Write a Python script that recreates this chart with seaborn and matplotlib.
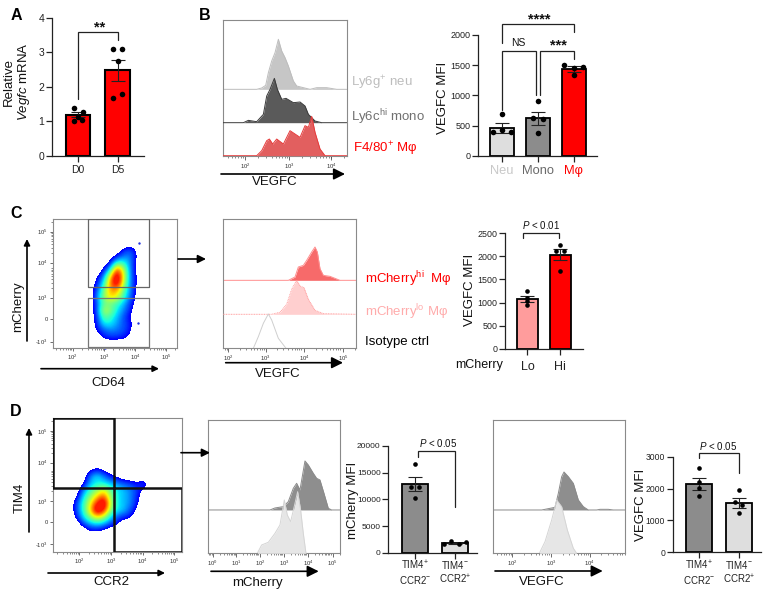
import numpy as np
import pandas as pd
import matplotlib
matplotlib.use("Agg")
import matplotlib.pyplot as plt
from matplotlib.colors import ListedColormap
import seaborn as sns

sns.set_theme(style="white")
plt.rcParams['font.family'] = ['Liberation Sans', 'DejaVu Sans']
plt.rcParams['mathtext.fontset'] = 'custom'
plt.rcParams['mathtext.rm'] = 'Liberation Sans'
plt.rcParams['mathtext.it'] = 'Liberation Sans:italic'
plt.rcParams['mathtext.bf'] = 'Liberation Sans:bold'
plt.rcParams['mathtext.default'] = 'regular'

W, H = 771, 594
RED, MID, LIGHT, PINK = '#ff0000', '#8c8c8c', '#dedede', '#ff9c9c'

# ---------------- bar panel data ----------------
a_cats = ['D0', 'D5']
a_means = [1.2, 2.48]
a_sems = [0.08, 0.31]
a_points = [[1.39, 1.27, 1.13, 1.01, 1.05], [3.09, 3.09, 2.74, 1.80, 1.69]]
a_jitter = [[-.11, .12, 0, -.11, .10], [-.12, .11, 0, .11, -.12]]

b_cats = ['Neu', 'Mono', 'M\u03c6']
b_means = [460, 620, 1440]
b_sems = [80, 110, 50]
b_points = [[690, 420, 390, 385], [910, 620, 610, 370], [1510, 1470, 1450, 1340]]
b_jitter = [[0, 0, -.26, .25], [0, -.13, .13, 0], [-.27, .26, 0, 0]]

c_cats = ['Lo', 'Hi']
c_means = [1080, 2040]
c_sems = [70, 120]
c_points = [[1255, 1105, 1030, 940], [2255, 2115, 2115, 1690]]
c_jitter = [[0, 0, 0, 0], [0, -.12, .12, 0]]

d1_cats = ['TIM4$^{+}$\nCCR2$^{-}$', 'TIM4$^{-}$\nCCR2$^{+}$']
d1_means = [12800, 1800]
d1_sems = [1300, 100]
d1_points = [[16600, 12300, 12300, 10200], [1700, 2100, 1700, 2000]]
d1_jitter = [[0, -.11, .11, 0], [-.28, -.09, .10, .28]]

d2_cats = ['TIM4$^{+}$\nCCR2$^{-}$', 'TIM4$^{-}$\nCCR2$^{+}$']
d2_means = [2150, 1550]
d2_sems = [190, 150]
d2_points = [[2660, 2210, 2030, 1760], [1950, 1500, 1570, 1220]]
d2_jitter = [[0, 0, 0, 0], [0, .09, -.09, 0]]

# ---------------- histogram data (channel, height above baseline) ----------------
bh_neu_x = [668, 770, 785, 797, 805, 815, 825, 835, 845, 855, 865, 880, 890, 910, 930, 950, 980, 1010, 1040]
bh_neu_y = [0, 0, 4, 12, 50, 85, 110, 150, 115, 95, 70, 25, 10, 5, 0, 5, 5, 0, 0]
bh_mono_x = [668, 730, 745, 770, 790, 800, 810, 823, 832, 845, 858, 880, 900, 915, 925, 945, 965, 1040]
bh_mono_y = [0, 0, 7, 3, 25, 80, 100, 133, 100, 70, 73, 60, 62, 50, 25, 5, 0, 0]
bh_mac_x = [668, 770, 785, 800, 808, 818, 830, 850, 870, 885, 900, 915, 925, 935, 945, 960, 975, 1040]
bh_mac_y = [0, 0, 15, 45, 50, 35, 50, 35, 75, 65, 55, 90, 85, 118, 70, 20, 0, 0]

ch_hi_x = [68, 265, 285, 295, 310, 320, 335, 345, 352, 360, 370, 390, 420, 469]
ch_hi_y = [0, 0, 10, 40, 45, 60, 85, 100, 85, 35, 15, 12, 0, 0]
ch_lo_x = [68, 215, 240, 260, 275, 290, 300, 312, 325, 345, 370, 469]
ch_lo_y = [0, 0, 6, 30, 75, 102, 85, 80, 45, 12, 2, 0]
ch_iso_x = [160, 175, 190, 205, 215, 235, 258]
ch_iso_y = [0, 35, 75, 103, 85, 30, 0]

d1h_top_x = [25, 210, 225, 250, 265, 280, 290, 300, 315, 325, 340, 350, 360, 372, 385, 395, 421]
d1h_top_y = [0, 0, 6, 10, 25, 65, 80, 60, 147, 135, 110, 95, 90, 50, 5, 0, 0]
d1h_bot_x = [172, 185, 205, 225, 240, 253, 262, 272, 285, 293, 302, 310, 318]
d1h_bot_y = [0, 25, 33, 60, 85, 160, 115, 95, 150, 185, 130, 60, 0]

d2h_top_x = [38, 185, 205, 225, 235, 245, 252, 265, 280, 295, 310, 325, 350, 360, 385, 400, 436]
d2h_top_y = [0, 0, 4, 8, 50, 100, 114, 100, 80, 30, 10, 0, 0, 2, 2, 0, 0]
d2h_bot_x = [178, 195, 215, 230, 245, 262, 280, 290]
d2h_bot_y = [0, 35, 100, 160, 140, 70, 15, 0]

# ---------------- pseudocolour density data ----------------
c_den_x = [270, 290, 310, 330, 350, 370, 390, 410, 430]
c_den_y = [130, 150, 170, 190, 210, 230, 250, 270, 290, 310, 330, 350, 370, 390, 410, 430]
c_den = [
    [0, 0, 0, 0, 0, 0, 0, 0, 0],
    [0, 0, 0, 0, 0, .10, .15, .05, 0],
    [0, 0, 0, 0, .10, .20, .20, .05, 0],
    [0, 0, 0, .10, .40, .35, .20, .03, 0],
    [0, 0, .08, .30, .80, .50, .20, .03, 0],
    [0, .05, .20, .60, .95, .55, .20, .05, 0],
    [0, .10, .30, .70, .90, .50, .20, .05, 0],
    [0, .15, .40, .65, .65, .40, .20, .03, 0],
    [0, .20, .45, .60, .55, .35, .18, .02, 0],
    [0, .15, .40, .40, .35, .25, .12, .02, 0],
    [0, .15, .50, .45, .30, .20, .10, 0, 0],
    [0, .12, .40, .35, .25, .15, .06, 0, 0],
    [0, .10, .30, .30, .22, .15, .10, 0, 0],
    [0, .08, .15, .20, .18, .15, .08, 0, 0],
    [0, 0, .10, .12, .12, .10, .05, 0, 0],
    [0, 0, 0, 0, 0, 0, 0, 0, 0],
]
c_dots_x = [418, 415, 315]
c_dots_y = [128, 370, 443]

d_den_x = [210, 230, 250, 270, 290, 310, 330, 350, 370, 390, 410, 430, 450]
d_den_y = [190, 210, 230, 250, 270, 290, 310, 330, 350, 370, 390, 410]
d_den = [
    [0, 0, 0, 0, 0, 0, 0, 0, 0, 0, 0, 0, 0],
    [0, 0, 0, .05, .10, .05, 0, 0, 0, 0, 0, 0, 0],
    [0, 0, 0, .20, .30, .20, .10, .05, 0, 0, 0, 0, 0],
    [0, 0, .05, .25, .30, .30, .25, .20, .15, .12, .08, .15, 0],
    [0, 0, .20, .35, .45, .55, .40, .30, .25, .20, .12, .05, 0],
    [0, .05, .30, .45, .60, .75, .45, .30, .25, .20, .10, 0, 0],
    [0, .15, .35, .55, .80, .95, .50, .30, .25, .20, .08, 0, 0],
    [0, .15, .35, .60, .95, .80, .45, .30, .25, .15, .03, 0, 0],
    [0, .10, .30, .45, .60, .50, .30, .15, .12, .08, 0, 0, 0],
    [0, 0, .15, .25, .30, .25, .15, .08, 0, 0, 0, 0, 0],
    [0, 0, 0, .08, .08, .05, 0, 0, 0, 0, 0, 0, 0],
    [0, 0, 0, 0, 0, 0, 0, 0, 0, 0, 0, 0, 0],
]

# ---------------- flow axis tick labels ----------------
dec_labels = {2: '$10^{2}$', 3: '$10^{3}$', 4: '$10^{4}$', 5: '$10^{5}$', 0: '$10^{0}$', 1: '$10^{1}$'}

fig = plt.figure(figsize=(W / 100, H / 100), dpi=100, facecolor='white')


def px_axes(left, right, top, bottom, **kw):
    return fig.add_axes([left / W, 1 - bottom / H, (right - left) / W, (bottom - top) / H], **kw)


def bar_panel(box, xlim, ymax, yticks, cats, means, sems, points, jitter, colors,
              width, lw=1.2, ytick_size=6.5, xtick_size=7, pt=13, xpad=1.5):
    ax = px_axes(*box)
    df = pd.DataFrame({'group': cats, 'value': means})
    sns.barplot(data=df, x='group', y='value', hue='group', palette=dict(zip(cats, colors)),
                dodge=False, legend=False, width=width, edgecolor='black', linewidth=lw,
                saturation=1, ax=ax, zorder=2)
    ax.errorbar(range(len(cats)), means, yerr=sems, fmt='none', ecolor='#222222',
                elinewidth=0.8, capsize=5, capthick=0.8, zorder=3)
    xs = [i + j for i, off in enumerate(jitter) for j in off]
    ys = [v for row in points for v in row]
    sns.scatterplot(x=xs, y=ys, color='black', s=pt, linewidth=0, ax=ax, zorder=4, clip_on=False)
    ax.set_xlim(*xlim)
    ax.set_ylim(0, ymax)
    ax.set_yticks(yticks)
    ax.set_xlabel('')
    ax.set_ylabel('')
    for s in ('top', 'right'):
        ax.spines[s].set_visible(False)
    for s in ('left', 'bottom'):
        ax.spines[s].set_linewidth(0.9)
        ax.spines[s].set_color('#222222')
    ax.tick_params(axis='both', left=True, bottom=True, width=0.9, length=4, color='#222222', pad=1.5,
                   labelcolor='#222222')
    ax.tick_params(axis='y', labelsize=ytick_size)
    ax.tick_params(axis='x', labelsize=xtick_size, pad=xpad)
    ax.patch.set_alpha(0)
    return ax


def hist_panel(box, xlim, ylim, ticks, labels, curves):
    ax = px_axes(*box)
    for c in curves:
        x, y, base = np.array(c['x']), np.array(c['y']), c['base']
        if c.get('fill'):
            ax.fill_between(x, base, base - y, color=c['fill'], linewidth=0, alpha=c.get('alpha', 1), zorder=c.get('z', 2))
        ax.plot(x, base - y, color=c['edge'], lw=0.7, ls=c.get('ls', '-'), zorder=c.get('z', 2) + .1)
    ax.set_xlim(*xlim)
    ax.set_ylim(*ylim)
    ax.set_xticks(ticks)
    ax.set_xticklabels(labels, fontsize=4.2, color='#333333')
    step = ticks[1] - ticks[0]
    minors = [t + step * np.log10(k) for t in [ticks[0] - step] + list(ticks) for k in range(2, 10)]
    ax.set_xticks([m for m in minors if xlim[0] <= m <= xlim[1]], minor=True)
    ax.set_yticks([])
    ax.tick_params(axis='x', which='major', bottom=True, length=3, width=0.5, color='#333333', pad=1)
    ax.tick_params(axis='x', which='minor', bottom=True, length=1.5, width=0.4, color='#333333')
    for s in ax.spines.values():
        s.set_linewidth(0.8)
        s.set_color('#8a8a8a')
    return ax


jet = ListedColormap(plt.get_cmap('jet')(np.linspace(.12, .88, 202)))
jet.set_under('white')


def flow_panel(box, xlim, ylim, den_x, den_y, den, xt, xl, yt, yl):
    ax = px_axes(*box)
    dx, dy = den_x[1] - den_x[0], den_y[1] - den_y[0]
    ax.imshow(np.array(den), cmap=jet, vmin=.07, vmax=.78, aspect='auto', interpolation='bicubic',
              extent=(den_x[0] - dx / 2, den_x[-1] + dx / 2, den_y[-1] + dy / 2, den_y[0] - dy / 2), zorder=1)
    ax.set_xlim(*xlim)
    ax.set_ylim(*ylim)
    ax.set_xticks(xt)
    ax.set_xticklabels(xl, fontsize=4.2, color='#333333')
    ax.set_yticks(yt)
    ax.set_yticklabels(yl, fontsize=4.2, color='#333333')
    xstep = xt[1] - xt[0]
    ax.set_xticks([m for t in [xt[0] - xstep] + list(xt) for m in [t + xstep * np.log10(k) for k in range(2, 10)]
                   if xlim[0] <= m <= xlim[1]], minor=True)
    ystep = yt[1] - yt[0]
    ax.set_yticks([m for t in list(yt[:3]) for m in [t - ystep * np.log10(k) for k in range(2, 10)]
                   if ylim[1] <= m <= ylim[0]], minor=True)
    ax.tick_params(which='major', left=True, bottom=True, length=2.5, width=0.5, color='#333333', pad=1)
    ax.tick_params(which='minor', left=True, bottom=True, length=1.3, width=0.4, color='#333333')
    for s in ax.spines.values():
        s.set_linewidth(0.8)
        s.set_color('#8a8a8a')
    return ax


# ---------------- panel A ----------------
axA = bar_panel((52, 144, 17.7, 156), (-0.66, 1.67), 4, [0, 1, 2, 3, 4], a_cats, a_means, a_sems,
                a_points, a_jitter, [RED, RED], 0.63, lw=1.5, ytick_size=7.5, xtick_size=7.5, pt=16, xpad=2.5)

# ---------------- panel B ----------------
hist_panel((222.7, 346.7, 20.3, 155.7), (668, 1040), (467, 61), [735, 867, 993],
           [dec_labels[2], dec_labels[3], dec_labels[4]], [
    dict(x=bh_neu_x, y=bh_neu_y, base=268, fill='#c6c6c6', edge='#bdbdbd', z=2),
    dict(x=bh_mono_x, y=bh_mono_y, base=368, fill='#5a5a5a', edge='#3a3a3a', z=3),
    dict(x=bh_mac_x, y=bh_mac_y, base=467, fill='#e25f5f', edge='#e63a3a', z=4),
])
axB = bar_panel((478, 597, 35, 155.7), (-0.67, 2.65), 2000, [0, 500, 1000, 1500, 2000], b_cats, b_means, b_sems,
                b_points, b_jitter, [LIGHT, MID, RED], 0.66, lw=1.3, ytick_size=6.5, xtick_size=9.3, pt=16, xpad=2.5)
for lab, col in zip(axB.get_xticklabels(), ['#c8c8c8', '#6a6a6a', RED]):
    lab.set_color(col)

# ---------------- panel C ----------------
axCf = flow_panel((52.7, 177.3, 219.3, 348.3), (158, 532), (445, 58), c_den_x, c_den_y, c_den,
                  [218, 312, 405, 498], [dec_labels[k] for k in (2, 3, 4, 5)],
                  [95, 188, 293, 356, 425], [dec_labels[5], dec_labels[4], dec_labels[3], '0', '-$10^{3}$'])
axCf.scatter(c_dots_x, c_dots_y, s=3, marker='o', color='#2030e0', linewidth=0, zorder=2, clip_on=False)
axCf.plot([264, 264, 448, 448, 264], [58, 262, 262, 58, 58], color='#666666', lw=0.9, zorder=3)
axCf.plot([264, 264, 448, 448, 264], [293, 442, 442, 293, 293], color='#777777', lw=0.9, zorder=3)

hist_panel((222.7, 356.3, 218.7, 348.3), (68, 469), (445, 56), [85, 197, 313, 430],
           [dec_labels[k] for k in (2, 3, 4, 5)], [
    dict(x=ch_hi_x, y=ch_hi_y, base=241, fill='#f76a6a', edge='#ff8f8f', z=2),
    dict(x=ch_lo_x, y=ch_lo_y, base=343, fill='#ffcfcf', edge='#ff9f9f', ls=(0, (1, 0.7)), z=3),
    dict(x=ch_iso_x, y=ch_iso_y, base=445, edge='#cfcfcf', z=4),
])
axC = bar_panel((505, 582.7, 233.3, 348.7), (-0.68, 1.68), 2500, [0, 500, 1000, 1500, 2000, 2500], c_cats, c_means, c_sems,
                c_points, c_jitter, [PINK, RED], 0.64, lw=1.3, ytick_size=6.4, xtick_size=9, pt=11, xpad=4.5)

# ---------------- panel D ----------------
axDf = flow_panel((52.7, 182.3, 418.3, 552.3), (158, 547), (457, 55), d_den_x, d_den_y, d_den,
                  [238, 333, 428, 522], [dec_labels[k] for k in (2, 3, 4, 5)],
                  [93, 188, 303, 365, 433], [dec_labels[5], dec_labels[4], dec_labels[3], '0', '-$10^{3}$'])
axDf.plot([158, 158, 342, 342, 158], [55, 264, 264, 55, 55], color='#111111', lw=1.8, zorder=3)
axDf.plot([342, 342, 545, 545, 342], [264, 455, 455, 264, 264], color='#111111', lw=1.8, zorder=3)

hist_panel((208.3, 340.3, 420.3, 553.3), (25, 421), (460, 61), [38, 108, 180, 252, 325, 398],
           [dec_labels[k] for k in (0, 1, 2, 3, 4, 5)], [
    dict(x=d1h_top_x, y=d1h_top_y, base=330, fill='#8e8e8e', edge='#8a8a8a', z=2),
    dict(x=d1h_bot_x, y=d1h_bot_y, base=460, fill='#e6e6e6', edge='#d5d5d5', z=3),
])
bar_panel((388.3, 476.7, 446, 552.7), (-0.67, 1.54), 20000, [0, 5000, 10000, 15000, 20000], d1_cats, d1_means, d1_sems,
          d1_points, d1_jitter, [MID, LIGHT], 0.65, lw=1.3, ytick_size=6, xtick_size=7, pt=11, xpad=0.5)

hist_panel((492.7, 625.3, 419.7, 553.3), (38, 436), (460, 59), [97, 213, 329],
           [dec_labels[2], dec_labels[3], dec_labels[4]], [
    dict(x=d2h_top_x, y=d2h_top_y, base=330, fill='#8e8e8e', edge='#8a8a8a', z=2),
    dict(x=d2h_bot_x, y=d2h_bot_y, base=460, fill='#e6e6e6', edge='#d5d5d5', z=3),
])
bar_panel((672.7, 760.7, 456.7, 552.3), (-0.66, 1.55), 3000, [0, 1000, 2000, 3000], d2_cats, d2_means, d2_sems,
          d2_points, d2_jitter, [MID, LIGHT], 0.65, lw=1.3, ytick_size=6.2, xtick_size=7, pt=11, xpad=0.5)

# ---------------- overlay: text, brackets, arrows ----------------
ov = fig.add_axes([0, 0, 1, 1], zorder=20)
ov.set_xlim(0, W)
ov.set_ylim(H, 0)
ov.axis('off')
ov.patch.set_alpha(0)


def txt(x, y, s, size=9.5, color='#111111', ha='center', rot=0, weight='normal'):
    ov.text(x, y, s, fontsize=size, color=color, ha=ha, va='center', rotation=rot, fontweight=weight)


for x, y, s in [(16, 15, 'A'), (205, 15, 'B'), (16, 213, 'C'), (16, 412, 'D')]:
    txt(x, y, s, size=11.5, color='black', weight='bold')

txt(9, 82, 'Relative', rot=90)
txt(24, 82, r'$\mathit{Vegfc}$ mRNA', rot=90)
txt(443, 98, 'VEGFC MFI', rot=90)
txt(470, 290, 'VEGFC MFI', rot=90)
txt(353, 500, 'mCherry MFI', rot=90)
txt(640.7, 505, 'VEGFC MFI', rot=90)
txt(18, 306.7, 'mCherry', rot=90)
txt(20, 498, 'TIM4', rot=90)
txt(275, 181.7, 'VEGFC')
txt(278, 373.7, 'VEGFC')
txt(108, 383, 'CD64')
txt(111, 582, 'CCR2')
txt(257.7, 582.7, 'mCherry')
txt(541.7, 581.7, 'VEGFC')
txt(503, 365, 'mCherry', size=9, ha='right')

txt(350.7, 83, 'Ly6g$^{+}$ neu', color='#bdbdbd', ha='left')
txt(350.7, 117, 'Ly6c$^{hi}$ mono', color='#707070', ha='left')
txt(352.7, 149, 'F4/80$^{+}$ M\u03c6', color=RED, ha='left')
txt(365, 279, 'mCherry$^{hi}$  M\u03c6', color=RED, ha='left')
txt(365, 311.7, 'mCherry$^{lo}$ M\u03c6', color='#ffabab', ha='left')
txt(365, 341.7, 'Isotype ctrl', color='black', ha='left')

brackets = [
    ([77.7, 77.7, 117.7, 117.7], [99.3, 32.3, 32.3, 40]),
    ([501.7, 501.7, 574, 574], [43.3, 24.3, 24.3, 32.3]),
    ([501.7, 501.7, 535.7, 535.7], [110, 50.7, 50.7, 95]),
    ([540, 540, 574, 574], [95, 50.7, 50.7, 59.3]),
    ([523.3, 523.3, 559.3, 559.3], [237.7, 232.7, 232.7, 237.7]),
    ([418.3, 418.3, 455.3, 455.3], [457.3, 450.7, 450.7, 506.7]),
    ([698.7, 698.7, 739, 739], [458.3, 453.3, 453.3, 473.3]),
]
for bx, by in brackets:
    ov.plot(bx, by, color='#222222', lw=0.9, solid_joinstyle='miter')

txt(99.3, 27, '**', size=10.5, weight='bold')
txt(539.7, 19.5, '****', size=10.5, weight='bold')
txt(518.7, 42.7, 'NS', size=7.5)
txt(558, 45.5, '***', size=10.5, weight='bold')
txt(541, 225.3, r'$\mathit{P}$ < 0.01', size=7)
txt(437.7, 442.7, r'$\mathit{P}$ < 0.05', size=7)
txt(717.7, 445.7, r'$\mathit{P}$ < 0.05', size=7)

arrows = [
    (221, 174, 345, 174, 17),
    (27, 341, 27, 239, 9),
    (41, 368.7, 159, 368.7, 9),
    (178, 259, 206, 259, 12),
    (225.7, 362.7, 343, 362.7, 17),
    (29, 532, 29, 428, 9),
    (48, 573, 165, 573, 9),
    (181, 452.7, 210, 452.7, 12),
    (211, 571.3, 318.7, 571.3, 17),
    (495, 571, 602.7, 571, 17),
]
for x0, y0, x1, y1, ms in arrows:
    ov.annotate('', xy=(x1, y1), xytext=(x0, y0),
                arrowprops=dict(arrowstyle='-|>', color='black', lw=1.2, mutation_scale=ms,
                                shrinkA=0, shrinkB=0))

fig.savefig('out.png', dpi=100)
